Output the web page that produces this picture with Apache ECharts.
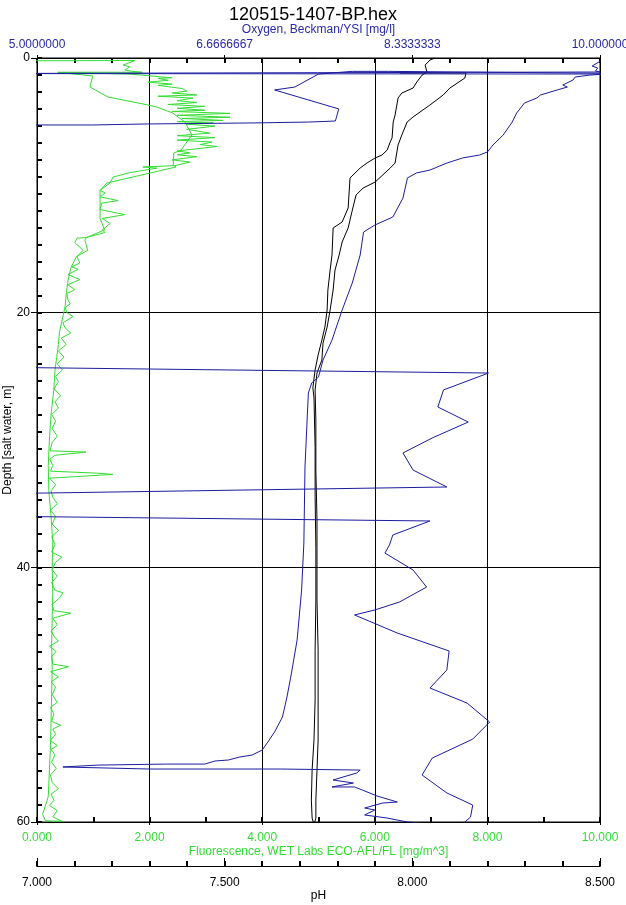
<!DOCTYPE html>
<html>
<head>
<meta charset="utf-8">
<script src="https://cdn.jsdelivr.net/npm/echarts/dist/echarts.min.js"></script>
<style>
html,body{margin:0;padding:0;background:#fff;}
#chart{width:626px;height:905px;}
</style>
</head>
<body>
<div id="chart"></div>
<script>
// ---- Data: [value, depth(m)] in recorded order ----
const titleText = '120515-1407-BP.hex';
const depthTicks = [0, 20, 40, 60];
const fluorTicks = [0, 2, 4, 6, 8, 10];
const oxygenTicks = [5, 6.6666667, 8.3333333, 10];
const phTicks = [7.0, 7.5, 8.0, 8.5];

// Fluorescence, WET Labs ECO-AFL/FL [mg/m^3]
const fluorescence = [
 [-0.3,0.22],[1.74,0.2],[1.53,0.55],[1.65,0.7],[1.56,0.94],[1.7,1.05],[1.87,1.12],[0.37,1.12],
 [0.99,1.41],[0.94,2.28],[1.26,3.06],[1.97,3.69],[2.13,3.85],[2.41,4.32],[2.63,5.03],[2.75,6.05],
 [2.56,7.23],[2.43,7.46],[2.42,8.4],[2.47,8.56],[1.24,9.82],[1.12,10.4],[1.12,12.6],[1.2,13.5],
 [0.88,14.1],[0.85,14.3],[0.9,15.1],[0.7,15.6],[0.6,16.5],[0.55,17.5],[0.52,18.5],[0.5,19.5],
 [0.45,20.5],[0.4,21.5],[0.38,22.5],[0.35,23.5],[0.32,24.5],[0.3,26],[0.25,28],[0.22,30],[0.2,32],
 [0.21,34],[0.25,36],[0.28,38],[0.27,40],[0.28,42],[0.27,44],[0.26,46],[0.27,48],[0.26,50],
 [0.25,52],[0.24,54],[0.22,56],[0.2,58],[0.1,59.4],[0.15,59.9],[0.45,59.95],
 [0.28,59.6],[0.36,59.1],[0.22,58.7],[0.3,58.3],[0.25,57.8],[0.38,57.4],[0.27,56.9],[0.24,56.3],
 [0.34,55.8],[0.26,55.3],[0.32,54.7],[0.25,54.3],[0.36,54.0],[0.24,53.6],[0.33,53.1],[0.28,52.7],
 [0.42,52.4],[0.26,52.1],[0.3,51.5],[0.24,51.0],[0.36,50.6],[0.27,50.0],[0.33,49.4],[0.25,49.0],
 [0.38,48.6],[0.24,48.2],[0.56,47.8],[0.28,47.6],[0.26,47.0],[0.34,46.6],[0.22,46.2],[0.38,45.8],
 [0.3,45.4],[0.25,45.0],[0.36,44.5],[0.28,44.0],[0.6,43.6],[0.3,43.4],[0.27,42.9],[0.4,42.4],
 [0.46,42.0],[0.32,41.8],[0.26,41.2],[0.36,40.7],[0.27,40.2],[0.33,39.6],[0.44,39.2],[0.26,38.8],
 [0.32,38.2],[0.26,37.6],[0.38,37.1],[0.27,36.6],[0.33,36.0],[0.24,35.5],[0.36,35.0],[0.28,34.5],
 [0.25,34.0],[0.33,33.5],[0.22,33.0],[1.35,32.7],[1.05,32.6],[0.24,32.45],[0.28,32.0],[0.23,31.5],
 [0.32,31.2],[0.87,30.95],[0.23,30.85],[0.27,30.2],[0.36,29.7],[0.27,29.1],[0.33,28.5],[0.26,28.0],
 [0.38,27.5],[0.32,27.0],[0.42,26.5],[0.3,26.0],[0.38,25.4],[0.33,25.0],[0.45,24.5],[0.36,24.0],
 [0.48,23.5],[0.38,23.0],[0.52,22.5],[0.43,22.0],[0.6,21.6],[0.5,21.2],[0.46,20.8],[0.64,20.3],
 [0.53,20.0],[0.5,19.6],[0.59,19.3],[0.55,19.0],[0.53,18.5],[0.67,18.2],[0.55,17.8],[0.76,17.4],
 [0.55,17.0],[0.73,16.6],[0.62,16.4],[0.76,16.1],[0.71,15.6],[0.82,15.1],[0.67,14.5],[0.71,14.15],
 [0.87,14.1],[1.21,13.7],[1.16,13.5],[1.3,13.0],[1.16,12.6],[1.56,12.3],[1.12,11.9],[1.15,11.4],
 [1.44,11.2],[1.12,10.9],[1.21,10.6],[1.12,10.4],[1.3,9.8],[1.35,9.35],[1.65,9.0],[2.13,8.65],
 [1.88,8.56],[2.45,8.45],[2.72,8.17],[2.4,8.0],[2.84,7.75],[2.49,7.6],[2.72,7.45],[2.49,7.3],
 [3.2,6.95],[2.9,6.8],[3.11,6.6],[2.49,6.45],[3.16,6.25],[2.49,6.1],[3.07,5.9],[2.66,5.6],
 [3.16,5.35],[2.66,5.2],[3.13,5.1],[2.49,5.0],[3.3,4.9],[2.58,4.75],[3.43,4.65],[2.49,4.5],
 [3.43,4.35],[2.4,4.2],[2.98,4.1],[2.49,3.95],[2.98,3.8],[2.33,3.65],[2.84,3.5],[2.49,3.35],
 [2.77,3.15],[2.15,3.0],[2.84,2.9],[2.4,2.75],[2.66,2.6],[2.58,2.4],[2.15,2.15],[2.4,2.05],
 [1.97,1.9],[2.33,1.75],[2.15,1.6],[2.4,1.55],[2.24,1.5],[2.06,1.42],[1.6,1.25],[0.37,1.15]
];

// pH
const ph = [
 [7.967,1.18],[8.143,1.18],[8.14,1.57],[8.1,2.36],[8.082,2.91],[8.047,3.69],[8.002,4.63],[7.986,5.03],
 [7.972,6.05],[7.962,6.83],[7.954,8.25],[7.941,8.64],[7.927,9.03],[7.901,9.74],[7.869,10.21],[7.85,10.76],
 [7.839,12.09],[7.829,13.35],[7.813,14.45],[7.805,15.47],[7.794,16.65],[7.789,18.22],[7.781,19.79],
 [7.773,21.13],[7.762,22.39],[7.759,23.72],[7.746,24.74],[7.741,26.07],[7.743,28.44],[7.743,32.36],
 [7.746,36.28],[7.746,39.42],[7.746,42.57],[7.749,46.5],[7.749,50.42],[7.749,53.56],[7.746,55.92],
 [7.743,58.28],[7.743,59.69],[7.738,60.2],[7.733,59.69],[7.731,58.28],[7.733,55.92],[7.738,53.56],
 [7.741,50.42],[7.741,46.5],[7.743,42.57],[7.743,38.5],[7.741,34.5],[7.741,30.6],[7.738,26.7],
 [7.735,25.91],[7.741,24.5],[7.749,23.33],[7.759,22.15],[7.767,21.13],[7.773,19.79],[7.775,18.22],
 [7.781,16.65],[7.786,15.47],[7.789,13.35],[7.813,12.88],[7.821,12.33],[7.829,11.78],[7.834,9.42],
 [7.861,8.64],[7.879,8.25],[7.901,7.85],[7.919,7.62],[7.933,7.23],[7.941,6.6],[7.946,6.28],
 [7.949,5.03],[7.954,4.48],[7.962,3.14],[7.972,2.75],[8.002,2.36],[8.012,1.88],[8.026,1.34],
 [8.039,1.1],[8.034,0.55],[8.047,0.16],[8.06,0.0]
];

// Oxygen, Beckman/YSI [mg/l]
const oxygen = [
 [10.02,0.16],[9.93,0.63],[9.98,0.79],[9.96,1.02],[10.0,1.1],[4.5,1.22],[10.04,1.26],
 [9.91,1.34],[9.78,1.49],[9.76,1.73],[9.67,2.12],[9.71,2.28],[9.62,2.51],[9.47,2.91],[9.44,3.14],
 [9.33,3.53],[9.26,4.32],[9.22,5.03],[9.14,6.05],[9.05,6.83],[9.0,7.38],[8.93,7.62],[8.78,7.85],
 [8.64,8.25],[8.49,8.8],[8.37,9.03],[8.29,9.42],[8.25,11.0],[8.16,12.49],[8.0,13.12],[7.9,13.67],
 [7.87,15.47],[7.8,17.67],[7.71,19.79],[7.62,22.15],[7.54,23.72],[7.5,25.05],[7.44,25.52],
 [7.41,26.31],[7.4,28.2],[7.38,32.12],[7.37,38.09],[7.35,41.78],[7.31,45.71],[7.26,48.3],
 [7.22,50.18],[7.18,51.75],[7.11,52.93],[7.05,53.72],[7.0,54.35],[6.91,54.74],[6.8,54.9],
 [6.7,55.13],[6.58,55.21],[6.49,55.45],[6.15,55.45],[5.54,55.53],[5.23,55.68],[6.0,55.84],
 [7.16,55.84],[7.87,55.92],[7.84,56.15],[7.63,56.7],[7.81,56.94],[7.62,57.25],[7.82,57.25],
 [7.89,57.49],[8.02,57.96],[8.2,58.43],[8.07,58.51],[7.91,58.9],[8.0,59.06],[7.91,59.45],
 [8.11,59.69],[8.29,60.0],[8.42,60.08],[8.62,61.4],[8.85,59.61],[8.87,58.67],[8.64,57.72],
 [8.42,56.31],[8.51,54.98],[8.87,53.49],[9.02,52.15],[8.82,50.66],[8.49,49.48],[8.64,48.06],
 [8.66,46.57],[8.2,45.16],[7.82,43.74],[8.0,43.35],[8.22,42.72],[8.46,41.55],[8.34,40.21],
 [8.09,38.88],[8.13,38.25],[8.16,37.46],[8.49,36.36],[4.5,35.97],[4.5,34.24],[8.64,33.69],
 [8.34,32.36],[8.25,31.02],[8.51,29.84],[8.83,28.59],[8.56,27.41],[8.61,26.07],[9.01,24.74],
 [4.5,24.27],[4.5,5.26],[5.49,5.26],[5.98,5.18],[6.92,5.1],[7.41,5.03],[7.65,4.95],[7.68,4.0],
 [7.11,2.51],[7.29,2.28],[7.5,1.26],[7.8,1.05],[8.12,1.05],[10.05,1.2]
];

const FONT = '"Liberation Sans", Arial, sans-serif';
const GREEN = '#33dd33';
const BLUE = '#1c1ca0';
const BLUE_TEXT = '#2a2aa8';

// helper axis that only draws small tick marks (its line sits on the existing frame line)
function tickAxis(extra, count, len) {
  return Object.assign({
    type: 'value', min: 0, max: count, interval: 1,
    axisLine: {show: true, onZero: false, lineStyle: {color: '#000', width: 1}},
    axisTick: {show: true, inside: true, length: len, lineStyle: {color: '#000', width: 2}},
    axisLabel: {show: false},
    splitLine: {show: false},
    minorTick: {show: false}
  }, extra);
}

const chart = echarts.init(document.getElementById('chart'), null, {renderer: 'canvas'});
const option = {
  animation: false,
  backgroundColor: '#ffffff',
  textStyle: {fontFamily: FONT},
  title: {
    text: titleText, left: 'center', top: 1,
    textStyle: {fontSize: 18, fontWeight: 'normal', color: '#000', fontFamily: FONT}
  },
  grid: {left: 37, right: 26, top: 58, bottom: 83, show: true, borderColor: '#000', borderWidth: 1,
         containLabel: false, outerBoundsMode: 'none'},
  xAxis: [
    {
      type: 'value', position: 'bottom', min: fluorTicks[0], max: fluorTicks[fluorTicks.length-1], interval: 2,
      name: 'Fluorescence, WET Labs ECO-AFL/FL [mg/m^3]', nameLocation: 'middle', nameGap: 24, nameMoveOverlap: false,
      nameTextStyle: {color: GREEN, fontSize: 12, fontFamily: FONT},
      axisLine: {show: true, onZero: false, lineStyle: {color: '#000', width: 1}},
      axisTick: {show: true, inside: false, length: 3, lineStyle: {color: '#000'}},
      minorTick: {show: false},
      axisLabel: {color: GREEN, fontSize: 12, margin: 10, fontFamily: FONT, showMinLabel: true, showMaxLabel: true,
        formatter: v => v.toFixed(3)},
      splitLine: {show: true, lineStyle: {color: '#000', width: 1}}
    },
    {
      type: 'value', position: 'top', min: oxygenTicks[0], max: oxygenTicks[oxygenTicks.length-1], interval: 5/3,
      name: 'Oxygen, Beckman/YSI [mg/l]', nameLocation: 'middle', nameGap: 22, nameMoveOverlap: false,
      nameTextStyle: {color: BLUE_TEXT, fontSize: 12, fontFamily: FONT},
      axisLine: {show: true, onZero: false, lineStyle: {color: '#000', width: 1}},
      axisTick: {show: true, inside: false, length: 3, lineStyle: {color: '#000'}},
      minorTick: {show: false},
      axisLabel: {color: BLUE_TEXT, fontSize: 12, margin: 7, fontFamily: FONT, showMinLabel: true, showMaxLabel: true,
        formatter: v => Number(v).toPrecision(8)},
      splitLine: {show: false}
    },
    {
      type: 'value', position: 'bottom', offset: 44, min: phTicks[0], max: phTicks[phTicks.length-1], interval: 0.5,
      name: 'pH', nameLocation: 'middle', nameGap: 24, nameMoveOverlap: false,
      nameTextStyle: {color: '#000', fontSize: 12, fontFamily: FONT},
      axisLine: {show: true, onZero: false, lineStyle: {color: '#000', width: 1}},
      axisTick: {show: true, inside: true, length: 8, lineStyle: {color: '#000'}},
      minorTick: {show: false},
      axisLabel: {color: '#000', fontSize: 12, margin: 11, fontFamily: FONT, showMinLabel: true, showMaxLabel: true,
        formatter: v => v.toFixed(3)},
      splitLine: {show: false}
    },
    // minor tick marks (oxygen: every 1/3 mg/l; pH: every 0.1; fluorescence: every 1)
    tickAxis({position: 'top'}, 15, 5),
    tickAxis({position: 'bottom', offset: 44}, 15, 5),
    tickAxis({position: 'bottom'}, 10, 5)
  ],
  yAxis: [
    {
      type: 'value', inverse: true, min: depthTicks[0], max: depthTicks[depthTicks.length-1], interval: 20,
      position: 'left',
      name: 'Depth [salt water, m]', nameLocation: 'middle', nameGap: 23, nameMoveOverlap: false,
      nameTextStyle: {color: '#000', fontSize: 12, fontFamily: FONT},
      axisLine: {show: true, onZero: false, lineStyle: {color: '#000', width: 1}},
      axisTick: {show: true, inside: false, length: 6, lineStyle: {color: '#000', width: 1}},
      minorTick: {show: false},
      axisLabel: {color: '#000', fontSize: 12, margin: 7, fontFamily: FONT, showMinLabel: true, showMaxLabel: true},
      splitLine: {show: true, lineStyle: {color: '#000', width: 1}}
    },
    // minor depth ticks: 45 steps over 0–60 m
    tickAxis({position: 'left', inverse: true}, 45, 5)
  ],
  series: [
    {name: 'Fluorescence', type: 'line', xAxisIndex: 0, yAxisIndex: 0, data: fluorescence,
     showSymbol: false, symbol: 'none', clip: true, lineStyle: {color: GREEN, width: 1}, z: 2},
    {name: 'pH', type: 'line', xAxisIndex: 2, yAxisIndex: 0, data: ph,
     showSymbol: false, symbol: 'none', clip: true, lineStyle: {color: '#000', width: 1}, z: 3},
    {name: 'Oxygen', type: 'line', xAxisIndex: 1, yAxisIndex: 0, data: oxygen,
     showSymbol: false, symbol: 'none', clip: true, lineStyle: {color: BLUE, width: 1}, z: 4}
  ]
};
chart.setOption(option);
</script>
</body>
</html>
